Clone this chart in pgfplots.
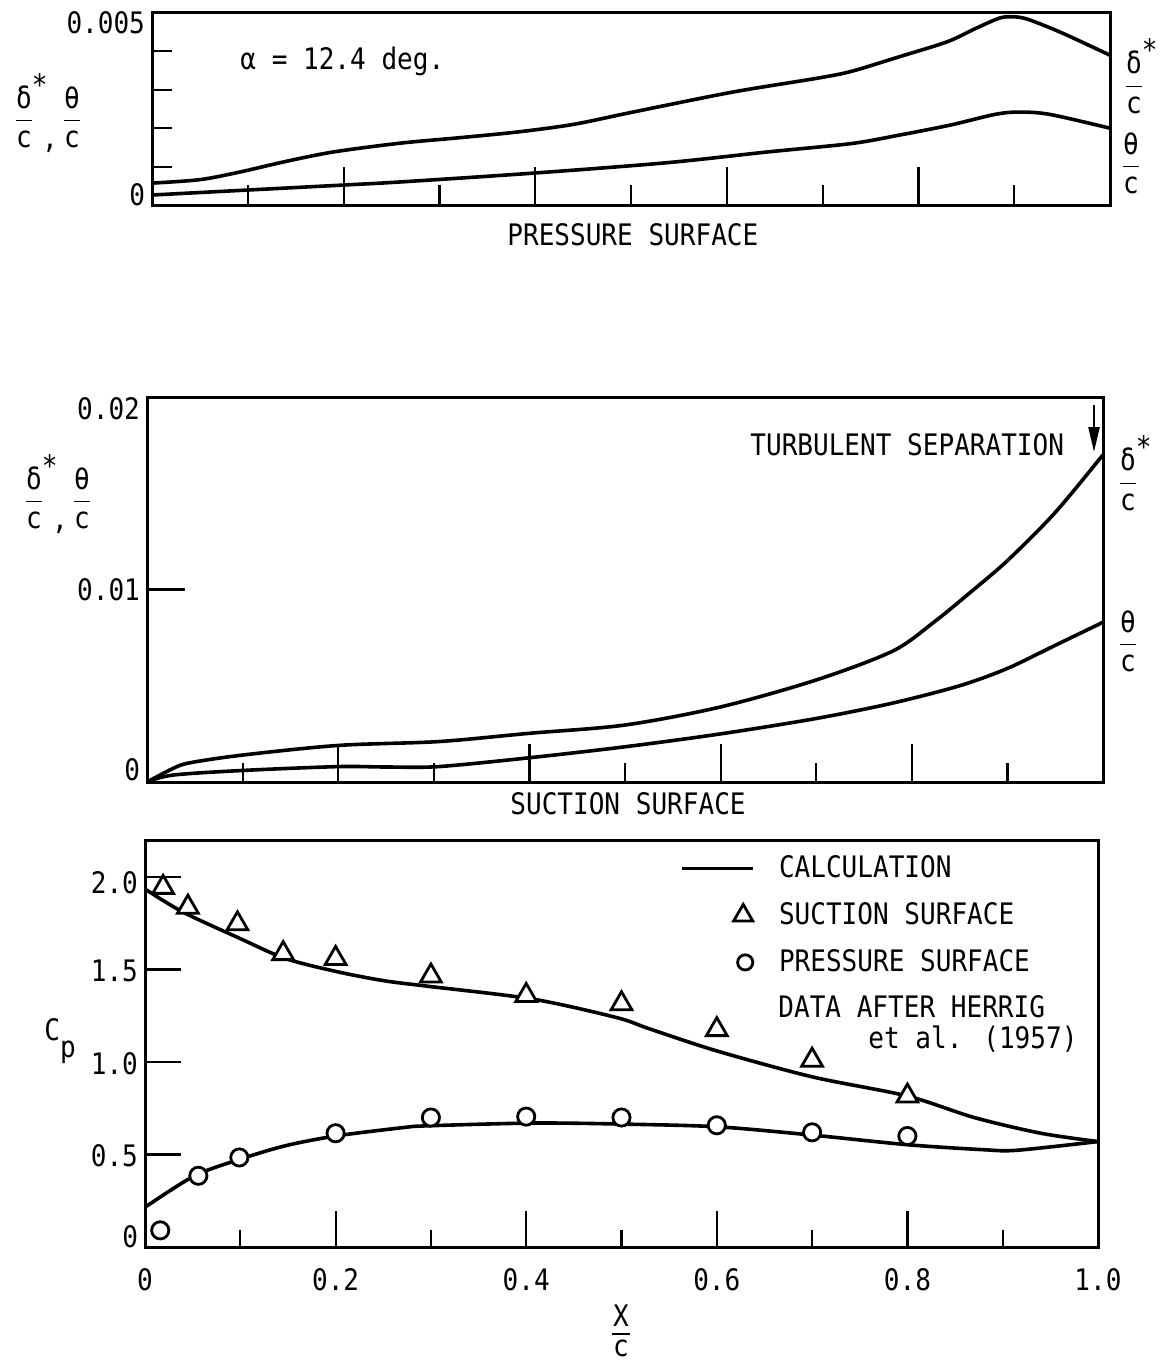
\documentclass[border=0pt]{standalone}
\usepackage{fontspec}
\setmainfont{DejaVu Sans Mono}[FakeStretch=0.88]
\usepackage{amsmath}
\usepackage{pgfplots}
\pgfplotsset{compat=1.18}
\usetikzlibrary{arrows.meta}

\newcommand{\fr}[2]{$\dfrac{\text{#1}}{\text{#2}}$}
\newcommand{\tl}[2]{\smash{\raisebox{#1}{#2}}}
\newcommand{\fs}{\fontsize{14.8}{17}\selectfont}
\newcommand{\dstar}{δ\rlap{\raisebox{0.45em}{*}}}

\pgfplotsset{
  panel/.style={
    scale only axis, anchor=south west,
    xmin=0, xmax=1,
    axis line style={line width=1.5pt},
    tick align=inside, xtick pos=bottom, ytick pos=left,
    xtick={0,0.2,0.4,0.6,0.8,1}, minor xtick={0.1,0.3,0.5,0.7,0.9},
    tick style={line width=1.1pt, black},
    major tick length=19pt, minor tick length=9.5pt,
    tick label style={font=\fs},
    scaled y ticks=false,
    /pgf/number format/assume math mode=true,
  },
  curve/.style={line width=1.8pt, black, smooth, tension=0.5},
}

\begin{document}
\begin{tikzpicture}
\begin{scope}[x=0.5pt,y=-0.5pt]
  \useasboundingbox (0,0) rectangle (1163,1370);
\end{scope}

% pressure surface
\begin{axis}[panel, at={(76pt,-102.5pt)}, width=479pt, height=96pt,
  ymin=0, ymax=0.005, xticklabels={},
  ytick={0,0.005}, yticklabels={\tl{0pt}{0},\tl{-10.5pt}{0.005}},
  minor ytick={0.001,0.002,0.003,0.004}, minor tick length=10pt]
  \addplot[curve] coordinates {(0,0.00057) (0.05,0.00066) (0.092,0.00086) (0.137,0.00112) (0.189,0.00138) (0.259,0.00161) (0.32,0.00175) (0.381,0.0019) (0.44,0.0021) (0.502,0.00242) (0.606,0.00294) (0.694,0.0033) (0.73,0.00348) (0.78,0.00386) (0.83,0.00425) (0.86,0.0046) (0.885,0.00487) (0.9,0.0049) (0.915,0.00483) (0.95,0.00448) (1.0,0.0039)};
  \addplot[curve] coordinates {(0,0.00026) (0.1,0.00039) (0.2,0.00052) (0.259,0.0006) (0.398,0.00083) (0.537,0.0011) (0.642,0.00138) (0.73,0.0016) (0.78,0.00182) (0.833,0.00208) (0.88,0.00236) (0.905,0.00242) (0.937,0.00236) (1.0,0.002)};
\end{axis}

% suction surface
\begin{axis}[panel, at={(73.5pt,-391pt)}, width=478pt, height=192.5pt,
  ymin=0, ymax=0.02, xticklabels={},
  ytick={0,0.01,0.02}, yticklabels={\tl{1pt}{0},\tl{-5.5pt}{0.01},\tl{-11pt}{0.02}}]
  \addplot[curve] coordinates {(0,0) (0.027,0.0007) (0.045,0.001) (0.1,0.0014) (0.2,0.0019) (0.305,0.0021) (0.4,0.00253) (0.5,0.00296) (0.6,0.0039) (0.7,0.0053) (0.78,0.0068) (0.823,0.0083) (0.86,0.0098) (0.9,0.0115) (0.95,0.014) (1.0,0.017)};
  \addplot[curve] coordinates {(0,0) (0.027,0.00036) (0.1,0.0006) (0.2,0.0008) (0.25,0.00078) (0.305,0.0008) (0.4,0.00126) (0.5,0.00183) (0.6,0.0025) (0.7,0.0033) (0.78,0.0041) (0.85,0.005) (0.9,0.0059) (0.95,0.0071) (1.0,0.0083)};
\end{axis}

% pressure coefficient
\begin{axis}[panel, at={(72.5pt,-623.5pt)}, width=476.5pt, height=203.5pt,
  ymin=0, ymax=2.2,
  ytick={0,0.5,1,1.5,2},
  yticklabels={\tl{0pt}{0},\tl{-6pt}{0.5},\tl{-6pt}{1.0},\tl{-6pt}{1.5},\tl{-8pt}{2.0}},
  xticklabels={0,0.2,0.4,0.6,0.8,1.0}, xticklabel style={yshift=-7pt},
  major tick length=18pt, minor tick length=8.5pt,
  legend cell align=left,
  legend style={draw=none, fill=none, inner sep=0pt,
    at={(axis cs:0.5614,2.119)}, anchor=north west, row sep=10.5pt,
    nodes={inner sep=0pt, text height=11pt, text depth=2pt, font=\fs},
    /tikz/every odd column/.append style={column sep=12pt}}]
  \addplot[curve, legend image code/.code={\draw[line width=1.8pt] (0pt,0pt) -- (35.5pt,0pt);}]
    coordinates {(0,1.935) (0.04,1.81) (0.1,1.667) (0.147,1.56) (0.2,1.49) (0.25,1.44) (0.296,1.41) (0.407,1.34) (0.495,1.24) (0.529,1.18) (0.6,1.06) (0.7,0.92) (0.8,0.816) (0.87,0.7) (0.94,0.615) (1.0,0.57)};
  \addlegendentry{CALCULATION}
  \addplot[curve, forget plot]
    coordinates {(0,0.215) (0.052,0.385) (0.1,0.475) (0.147,0.547) (0.2,0.60) (0.27,0.645) (0.296,0.655) (0.407,0.67) (0.495,0.665) (0.6,0.65) (0.7,0.605) (0.8,0.553) (0.88,0.526) (0.915,0.523) (1.0,0.57)};
  \addplot[only marks, mark=triangle*, mark size=6pt, mark options={fill=white, draw=black, line width=1.4pt},
    legend image code/.code={\draw[mark=triangle*, mark size=5.5pt, mark options={fill=white, draw=black, line width=1.4pt}] plot coordinates {(30.5pt,0pt)};}]
    coordinates {(0.019,1.944) (0.045,1.837) (0.097,1.747) (0.145,1.586) (0.2,1.56) (0.3,1.465) (0.4,1.36) (0.5,1.315) (0.6,1.175) (0.7,1.01) (0.8,0.816)};
  \addlegendentry{SUCTION SURFACE}
  \addplot[only marks, mark=*, mark size=4.3pt, mark options={fill=white, draw=black, line width=1.4pt},
    legend image code/.code={\draw[mark=*, mark size=3.8pt, mark options={fill=white, draw=black, line width=1.4pt}] plot coordinates {(31.5pt,0pt)};}]
    coordinates {(0.016,0.09) (0.056,0.385) (0.099,0.484) (0.2,0.615) (0.3,0.70) (0.4,0.705) (0.5,0.70) (0.6,0.658) (0.7,0.62) (0.8,0.60)};
  \addlegendentry{PRESSURE SURFACE}
\end{axis}

\begin{scope}[x=0.5pt,y=-0.5pt, every node/.style={font=\fs, inner sep=0pt}]
  \node[anchor=base west] at (240,70) {α = 12.4 deg.};
  \node[anchor=base west] at (507,245) {PRESSURE SURFACE};
  \node[anchor=base west] at (510,814) {SUCTION SURFACE};
  \node[anchor=base west] at (750,455) {TURBULENT SEPARATION};
  \node[anchor=base west] at (778,1017) {DATA AFTER HERRIG};
  \node[anchor=base west] at (868,1048) {et al. (1957)};
  \draw[line width=1.2pt, -{Triangle[length=12.5pt,width=5.5pt]}] (1094,405) -- (1094,452);
  % axis quantities
  \node at (48,113) {\fr{\dstar}{c}\hspace{4pt}\raisebox{-0.7em}{,}\hspace{2pt}\fr{θ}{c}};
  \node at (58,494) {\fr{\dstar}{c}\hspace{4pt}\raisebox{-0.7em}{,}\hspace{2pt}\fr{θ}{c}};
  \node at (1134,76) {\fr{\dstar}{c}};
  \node at (1131,163) {\fr{θ}{c}};
  \node at (1128,473) {\fr{\dstar}{c}};
  \node at (1128,641) {\fr{θ}{c}};
  \node[anchor=base west] at (44,1040) {C\raisebox{-8.5pt}{p}};
  % x/c below the bottom axis
  \node at (621,1316) {X};
  \draw[line width=0.8pt] (612,1334) -- (630,1334);
  \node at (621,1348) {c};
\end{scope}
\end{tikzpicture}
\end{document}
